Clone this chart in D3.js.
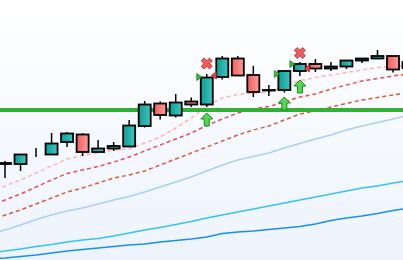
<!DOCTYPE html>
<html><head><meta charset="utf-8">
<script src="https://cdn.jsdelivr.net/npm/d3@7"></script>
<style>html,body{margin:0;padding:0;overflow:hidden;background:#fff}</style>
</head><body><svg id="c" width="403" height="260"></svg>
<script>
// candle data (index 0..26)
const opens  = [97,96,105.5,105.5,118,125.5,108,111.5,113.5,134,156.5,144.5,158.5,155.5,183,201.5,185,170,170,189,196,191.5,193.5,199.5,201.5,204,192];
const closes = [96,105.5,105.5,116.5,126.5,108,111.5,114,134.5,155.5,145,157.5,155.5,182.5,201.5,184.5,168,169.5,189,196,191.5,193.5,199.5,201.5,204,190.5,198];
const highs  = [99,105.5,112,127,128,127,120,118,140,159,158.5,166,162.5,186,204,204,194,175,190,198,201,198,200,202,210,204,200];
const lows   = [82,89,103,105,113,104,108,109,113,132.5,140.5,142.5,153,153,180.5,184,163,164,167.5,184,188,189,191,197,201.5,187.5,190];
// moving lines (index -1..26)
const maPink   = [67,74,80,87,94,101,105,107,110,111,117,123,132,142,154,162,165.5,167,167.5,174,179.5,182.5,185,187.5,190,192.5,193.5,194.5];
const maRed    = [53,60,66,73,80,86.5,90,93.5,98,103,109,115,121,127,134.5,141,147,151,153.5,158,163,166,171,175,179,181.5,184,186];
const maOrange = [39,45,50,56,62,68,72,77,82,85,89,95,101,107,113,119,125,130,134,140,146,149,153,156.5,160,162.5,165,167];
const maLight  = [26,30,35,40.5,45,49,52,56,60,63.5,68,73,78,83,89,95,100,103.5,107,112,116.5,121,125,130,134,137.5,141,145];
const maCyan   = [7,9,11,13.5,15.5,18,20,21.5,24,27,30,32.5,35.5,38.5,42,45,48,51,54,57,60,63,66,69,72,74,77,79.5];
const maBlue   = [1,2,3.5,5,7,9,10.5,12,13.5,15,16,18,19.5,21,23,26.5,28,29,30.5,32,33.5,36,39.5,42,44,46.5,49.5,52];
const levelLine = 150;
// signals
const upArrowIdx = [13,18,19];
const upArrowVal = [147,163,180];
const crossIdx = [13,19];
const crossVal = [196.5,207];
const flagBuyIdx = [13,18,19];
const flagBuyVal = [183,186,196];
const flagSellIdx = [13,19];
const flagSellVal = [184.5,191.5];

const W=403,H=260;
const svg=d3.select('#c');
const x=d3.scaleLinear().domain([0,25]).range([5,393]);
const y=d3.scaleLinear().domain([0,260]).range([260,0]);
const bw=12;

const defs=svg.append('defs');
const bg=defs.append('linearGradient').attr('id','bg').attr('x1',0).attr('y1',0).attr('x2',0).attr('y2',1);
bg.append('stop').attr('offset','0%').attr('stop-color','#ffffff');
bg.append('stop').attr('offset','100%').attr('stop-color','#edf3fd');
const gu=defs.append('linearGradient').attr('id','gu');
gu.append('stop').attr('offset','0%').attr('stop-color','#0e9c95');
gu.append('stop').attr('offset','100%').attr('stop-color','#3cc7c0');
const gd=defs.append('linearGradient').attr('id','gd');
gd.append('stop').attr('offset','0%').attr('stop-color','#f35e5e');
gd.append('stop').attr('offset','100%').attr('stop-color','#ff9c9c');

svg.append('rect').attr('width',W).attr('height',H).attr('fill','url(#bg)');

const idx=d3.range(-1,27);
const line=d3.line().x((d,i)=>x(idx[i])).y(d=>y(d));
const lines=[
 [maBlue,'#1790ee',null],
 [maCyan,'#35c3f4',null],
 [maLight,'#a9cff7',null],
 [maOrange,'#dc5a34','4,3'],
 [maRed,'#f2494b','4,3'],
 [maPink,'#ffb4b8','4,3']
];
lines.forEach(([d,c,da])=>{
  const p=svg.append('path').attr('d',line(d)).attr('fill','none').attr('stroke',c).attr('stroke-width',1.5);
  if(da) p.attr('stroke-dasharray',da);
});

svg.append('line').attr('x1',0).attr('x2',W).attr('y1',y(levelLine)).attr('y2',y(levelLine))
  .attr('stroke','#2fb133').attr('stroke-width',4);

const cd=opens.map((o,i)=>({i,o,c:closes[i],h:highs[i],l:lows[i]}));
const g=svg.append('g');
g.selectAll('line.w').data(cd).enter().append('line')
 .attr('x1',d=>x(d.i)).attr('x2',d=>x(d.i)).attr('y1',d=>y(d.h)).attr('y2',d=>y(d.l))
 .attr('stroke','#000').attr('stroke-width',1.5);
g.selectAll('rect.b').data(cd).enter().append('rect')
 .attr('x',d=>x(d.i)-bw/2).attr('width',bw)
 .attr('y',d=>y(Math.max(d.o,d.c))).attr('height',d=>Math.abs(y(d.o)-y(d.c)))
 .attr('fill',d=>d.c>=d.o?'url(#gu)':'url(#gd)').attr('stroke','#000').attr('stroke-width',1.8);

// flags
flagBuyIdx.forEach((k,j)=>{
  const bx=x(k)-bw/2+1, cy=y(flagBuyVal[j]);
  svg.append('path').attr('d',`M${bx-5},${cy-3.5}L${bx},${cy}L${bx-5},${cy+3.5}Z`)
   .attr('fill','#3cb83c').attr('stroke','#1a8a1a').attr('stroke-width',0.8);
});
flagSellIdx.forEach((k,j)=>{
  const bx=x(k)+bw/2-1.5, cy=y(flagSellVal[j]);
  svg.append('path').attr('d',`M${bx+5},${cy-3.5}L${bx},${cy}L${bx+5},${cy+3.5}Z`)
   .attr('fill','#e84848').attr('stroke','#b02020').attr('stroke-width',0.8);
});
// arrows
upArrowIdx.forEach((k,j)=>{
  const cx=x(k), t=y(upArrowVal[j]);
  svg.append('path').attr('d',`M${cx},${t}L${cx+6},${t+6}L${cx+2.5},${t+6}L${cx+2.5},${t+13}L${cx-2.5},${t+13}L${cx-2.5},${t+6}L${cx-6},${t+6}Z`)
   .attr('fill','#55d655').attr('stroke','#178c17').attr('stroke-width',1);
});
// crosses
crossIdx.forEach((k,j)=>{
  const cx=x(k), cy=y(crossVal[j]), a=5.5, w=2.8;
  const p=`M${-a},${-a+w}L${-a+w},${-a}L0,${-w}L${a-w},${-a}L${a},${-a+w}L${w},0L${a},${a-w}L${a-w},${a}L0,${w}L${-a+w},${a}L${-a},${a-w}L${-w},0Z`;
  svg.append('path').attr('d',p).attr('transform',`translate(${cx},${cy})`)
   .attr('fill','#ec5c5c').attr('stroke','#c23434').attr('stroke-width',0.9);
});
</script></body></html>
